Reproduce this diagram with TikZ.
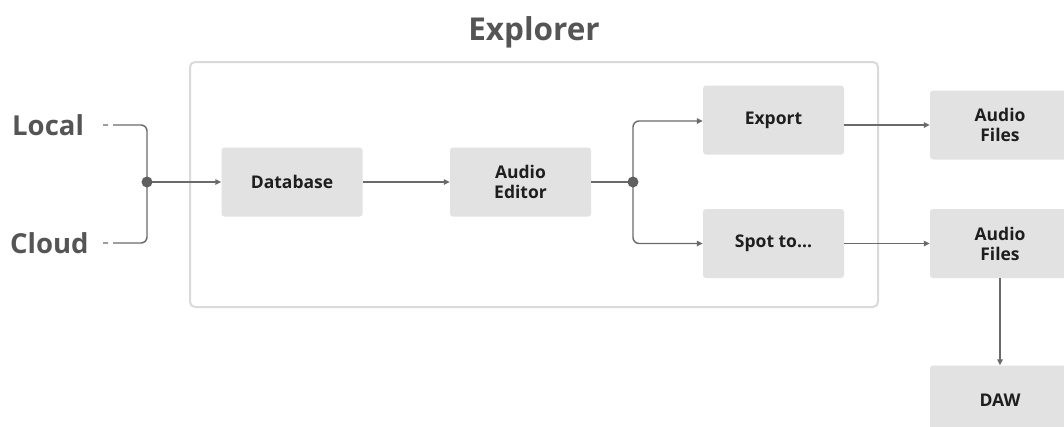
\documentclass[tikz,border=0pt]{standalone}
\usepackage{fontspec}
\setmainfont{Open Sans}
\usetikzlibrary{arrows.meta,positioning}
\definecolor{boxfill}{HTML}{E2E2E2}
\definecolor{wire}{HTML}{6A6A6A}
\definecolor{labelgray}{HTML}{555555}
\definecolor{boxtext}{HTML}{1E1E1E}
\definecolor{framegray}{HTML}{DADADA}
\tikzset{
  stagebox/.style={fill=boxfill, rounded corners=3pt, minimum width=141pt,
    minimum height=69pt, align=center, font=\fontsize{17.5}{20}\selectfont\bfseries,
    text=boxtext, inner sep=0pt},
  sidelabel/.style={font=\fontsize{27.5}{30}\selectfont\bfseries, text=labelgray, inner sep=0pt},
  wireline/.style={draw=wire, line width=1.4pt},
  flow/.style={wireline, -{Triangle[length=6pt,width=5.5pt]}},
  joint/.style={circle, fill=wire!90!black, minimum size=11pt, inner sep=0pt}
}
\begin{document}
\begin{tikzpicture}[x=1pt,y=-1pt]
\useasboundingbox (0,0) rectangle (1064,426);
\fill[white] (0,0) rectangle (1064,426);

% title and enclosing frame
\node[font=\fontsize{31.5}{34}\selectfont\bfseries, text=labelgray] (title) at (534,32) {Explorer};
\draw[framegray, line width=2pt, rounded corners=5pt] (190,62) rectangle (878,307);

% sources
\node[sidelabel, anchor=west] (local) at (12,125) {Local};
\node[sidelabel, anchor=west] (cloud) at (10,243) {Cloud};

% processing stages
\node[stagebox] (db) at (292,182) {Database};
\node[stagebox] (editor) at (520.5,182) {Audio\\Editor};
\node[stagebox] (export) at (773.5,120) {Export};
\node[stagebox] (spot) at (773.5,243.5) {Spot to...};
\node[stagebox, minimum width=140pt] (files1) at (1000,125) {Audio\\Files};
\node[stagebox, minimum width=140pt] (files2) at (1000,243.5) {Audio\\Files};
\node[stagebox, minimum width=140pt] (daw) at (1000,400) {DAW};

% junctions
\coordinate (j1) at (147,182);
\coordinate (j2) at (633,182);

% merging the two sources
\draw[wireline, rounded corners=6pt, dash pattern=on 5pt off 5pt on 300pt]
  (103,125) -- (j1 |- 0,125) -- (j1);
\draw[wireline, rounded corners=6pt, dash pattern=on 5pt off 5pt on 300pt]
  (103,243) -- (j1 |- 0,243) -- (j1);
\draw[flow] (j1) -- (db.west);
\node[joint] (dot1) at (j1) {};

% main chain
\draw[flow] (db.east) -- (editor.west);
\draw[wireline] (editor.east) -- (j2);
\draw[flow, rounded corners=6pt] (j2) -- (j2 |- 0,121) -- (export.west |- 0,121);
\draw[flow, rounded corners=6pt] (j2) -- (j2 |- spot.west) -- (spot.west);
\node[joint] (dot2) at (j2) {};

% outputs
\draw[flow] (export.east |- files1.west) -- (files1.west);
\draw[flow] (spot.east) -- (files2.west);
\draw[flow] (files2.south) -- (daw.north);
\end{tikzpicture}
\end{document}
